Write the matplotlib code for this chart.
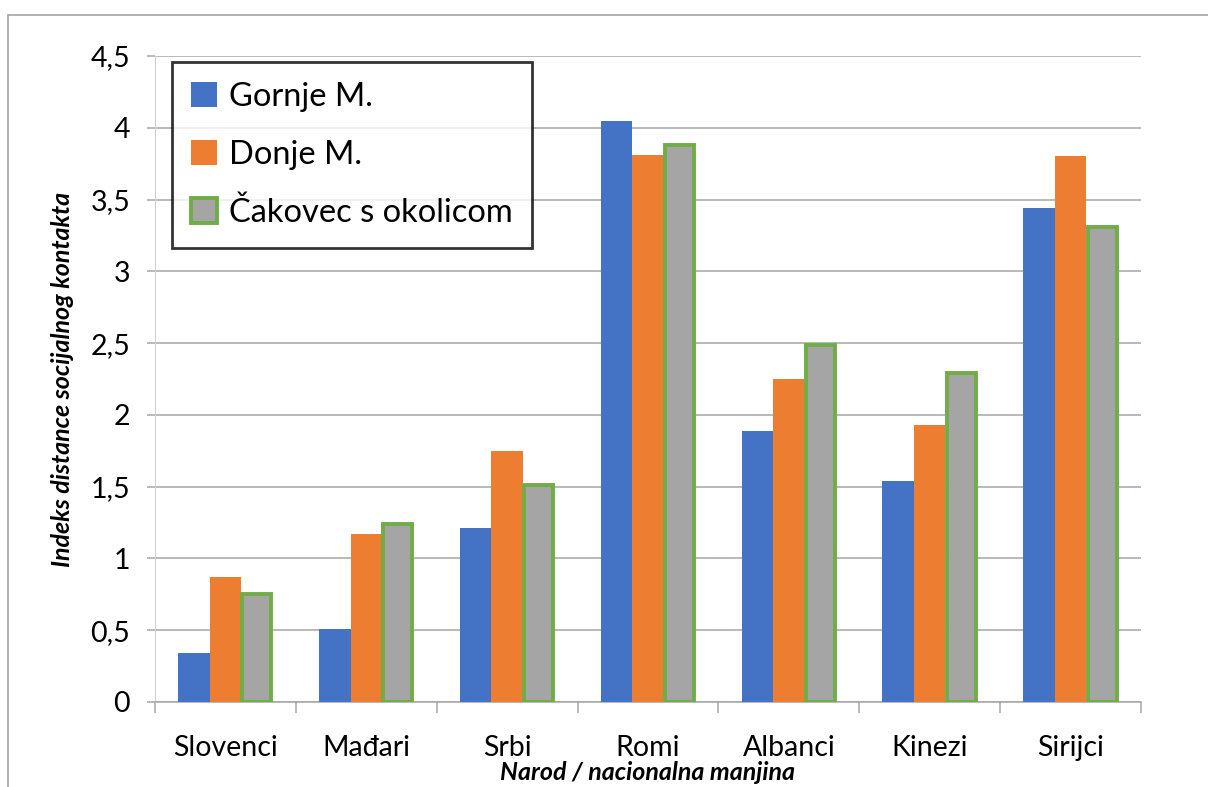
import numpy as np
import matplotlib.pyplot as plt
import matplotlib.patches as mpatches

# Data
categories = ["Slovenci", "Mađari", "Srbi", "Romi", "Albanci", "Kinezi", "Sirijci"]
gornje = [0.34, 0.51, 1.21, 4.05, 1.89, 1.54, 3.44]
donje = [0.87, 1.17, 1.75, 3.81, 2.25, 1.93, 3.80]
cakovec = [0.75, 1.24, 1.51, 3.88, 2.49, 2.29, 3.31]
series_names = ["Gornje M.", "Donje M.", "Čakovec s okolicom"]
y_ticks = [0, 0.5, 1, 1.5, 2, 2.5, 3, 3.5, 4, 4.5]
y_tick_labels = ["0", "0,5", "1", "1,5", "2", "2,5", "3", "3,5", "4", "4,5"]

plt.rcParams['font.family'] = ['Lato', 'DejaVu Sans']

fig = plt.figure(figsize=(12.08, 7.87), dpi=100)
ax = fig.add_axes([155 / 1208, 1 - 702 / 787, (1141 - 155) / 1208, (702 - 56) / 787])

# Outer chart border (runs off the right and bottom edges)
fig.patches.append(mpatches.Rectangle((8 / 1208, -0.1), 1.2, 1 - 15 / 787 + 0.1,
                                      transform=fig.transFigure, fill=False,
                                      edgecolor='#A6A6A6', linewidth=1.2))

x = np.arange(len(categories))
w = 0.224
ax.bar(x - w, gornje, w, color='#4472C4', label=series_names[0], zorder=3)
ax.bar(x, donje, w, color='#ED7D31', label=series_names[1], zorder=3)
ax.bar(x + w, cakovec, w * 0.92, color='#A5A5A5', edgecolor='#70AD47', linewidth=2.8,
       label=series_names[2], zorder=3)

ax.set_xlim(-0.5, len(categories) - 0.5)
ax.set_ylim(0, 4.5)
ax.set_yticks(y_ticks)
ax.set_yticklabels(y_tick_labels, fontsize=20.5)
ax.set_xticks(x)
ax.set_xticklabels(categories, fontsize=20.5)
ax.set_xticks(np.arange(len(categories) + 1) - 0.5, minor=True)

ax.grid(axis='y', color='#A6A6A6', linewidth=1.1, zorder=0)
ax.tick_params(axis='y', length=6, color='#A6A6A6', width=1.1, pad=12)
ax.tick_params(axis='x', which='major', length=0, pad=24)
ax.tick_params(axis='x', which='minor', length=8, color='#A6A6A6', width=1.1)

for side in ['top', 'right']:
    ax.spines[side].set_visible(False)
ax.spines['left'].set_color('#D0D0D0')
ax.spines['bottom'].set_color('#A6A6A6')
ax.spines['bottom'].set_linewidth(1.1)

ax.set_ylabel("Indeks distance socijalnog kontakta", fontsize=18, fontweight='bold',
              style='italic', labelpad=12)
ax.set_xlabel("Narod / nacionalna manjina", fontsize=18, fontweight='bold',
              style='italic', labelpad=0)

leg = ax.legend(loc='upper left', bbox_to_anchor=(0.017, 0.99), fontsize=23.5,
                frameon=True, fancybox=False, edgecolor='black', borderaxespad=0,
                handlelength=0.8, handleheight=0.8, handletextpad=0.35,
                labelspacing=0.85, borderpad=0.6)
leg.get_frame().set_linewidth(2)
leg.set_zorder(5)
for h in leg.legend_handles:
    if h.get_label() == series_names[2]:
        h.set_linewidth(3.5)

fig.savefig("out.png", dpi=100)
